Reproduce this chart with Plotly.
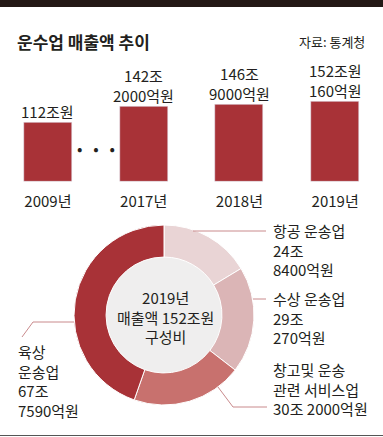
import plotly.graph_objects as go

# ---- data ----
years = ["2009년", "2017년", "2018년", "2019년"]
sales = [112.0, 142.2, 146.9, 152.016]          # 조원
sales_labels = ["112조원", "142조<br>2000억원", "146조<br>9000억원", "152조원<br>160억원"]

segments = ["항공 운송업", "수상 운송업", "창고및 운송 관련 서비스업", "육상 운송업"]
seg_values = [24.84, 29.027, 30.2, 67.759]     # 조원
seg_labels = ["항공 운송업<br>24조<br>8400억원",
              "수상 운송업<br>29조<br>270억원",
              "창고및 운송<br>관련 서비스업<br>30조 2000억원",
              "육상<br>운송업<br>67조<br>7590억원"]
seg_colors = ["#e9d4d5", "#dbb5b6", "#c8716e", "#a83237"]

W, H = 383, 437
FONT = "Noto Sans CJK KR"
TXT = "#231f20"
BAR = "#a83237"
LEAD = "#c98a8c"


def px(x):
    return x / W


def py(y):
    return 1 - y / H


fig = go.Figure()

# bars
xs = list(range(len(years)))
fig.add_trace(go.Bar(x=xs, y=sales, marker_color=BAR, width=0.5,
                     hoverinfo="skip", showlegend=False))

# donut
fig.add_trace(go.Pie(
    labels=segments, values=seg_values, sort=False, direction="clockwise",
    rotation=0, hole=0.644, textinfo="none", hoverinfo="skip",
    marker=dict(colors=seg_colors, line=dict(color="white", width=1)),
    domain=dict(x=[px(164 - 90), px(164 + 90)], y=[py(405), py(225)]),
    showlegend=False))

ymax = 200
fig.update_layout(
    width=W, height=H, margin=dict(l=0, r=0, t=0, b=0),
    paper_bgcolor="white", plot_bgcolor="white",
    font=dict(family=FONT, color=TXT, size=15),
    xaxis=dict(domain=[0, 1], range=[-0.5, 3.5], tickvals=xs, ticktext=years,
               showgrid=False, zeroline=False, showline=False, ticks="",
               tickfont=dict(size=15, color=TXT), ticklabelstandoff=9,
               fixedrange=True),
    yaxis=dict(domain=[py(182), py(182 - ymax * 0.527)], range=[0, ymax],
               showgrid=False, zeroline=False, showline=False,
               showticklabels=False, fixedrange=True),
    bargap=0,
)

ann = []
# value labels above bars
for i, (v, lab) in enumerate(zip(sales, sales_labels)):
    ann.append(dict(x=i, y=v, xref="x", yref="y", text=lab, showarrow=False,
                    xanchor="center", yanchor="bottom", yshift=-1,
                    font=dict(size=15, color=TXT)))
# ellipsis dots
ann.append(dict(x=0.5, y=py(148), xref="x", yref="paper", text="•   •   •",
                xanchor="center", yanchor="middle",
                showarrow=False, font=dict(size=16, color=TXT)))
# title / source
ann.append(dict(x=px(15), y=py(41), xref="paper", yref="paper", xanchor="left",
                yanchor="middle",
                text="<b>운수업 매출액 추이</b>", showarrow=False,
                font=dict(size=17, color=TXT)))
ann.append(dict(x=px(367), y=py(41), xref="paper", yref="paper", xanchor="right",
                yanchor="middle",
                text="자료: 통계청", showarrow=False, font=dict(size=13, color=TXT)))
# donut center
ann.append(dict(x=px(165), y=py(317), xref="paper", yref="paper",
                xanchor="center", yanchor="middle",
                text="2019년<br>매출액 152조원<br>구성비", showarrow=False,
                font=dict(size=15, color=TXT)))
# segment labels
lab_pos = [(271, 250), (271, 318), (271, 389), (16, 381)]
for (x, y), lab in zip(lab_pos, seg_labels):
    ann.append(dict(x=px(x), y=py(y), xref="paper", yref="paper", xanchor="left",
                    yanchor="middle", align="left", text=lab, showarrow=False,
                    font=dict(size=15, color=TXT)))
fig.update_layout(annotations=ann)

shapes = []
# top bar & bottom rule
shapes.append(dict(type="rect", xref="paper", yref="paper", x0=0, x1=1,
                   y0=py(7), y1=1, fillcolor="#231815", line_width=0))
shapes.append(dict(type="line", xref="paper", yref="paper", x0=0, x1=1,
                   y0=py(435.5), y1=py(435.5), line=dict(color="#555", width=1)))
# donut hole fill
shapes.append(dict(type="circle", xref="paper", yref="paper", layer="below",
                   x0=px(164 - 60), x1=px(164 + 60), y0=py(315 + 60), y1=py(315 - 60),
                   fillcolor="#efeeee", line_width=0))
# leader lines
paths = [
    [(193, 231), (266, 231)],
    [(253, 299), (266, 299)],
    [(218, 387), (233, 407), (267, 407)],
    [(74, 322), (33, 322), (22, 337)],
]
for p in paths:
    d = "M " + " L ".join(f"{px(x)} {py(y)}" for x, y in p)
    shapes.append(dict(type="path", xref="paper", yref="paper", path=d,
                       line=dict(color=LEAD, width=1)))
fig.update_layout(shapes=shapes)

fig.write_html("out.html", config={"displayModeBar": False},
               post_script="document.body.style.margin='0';document.body.style.padding='0';document.body.style.overflow='hidden';")
